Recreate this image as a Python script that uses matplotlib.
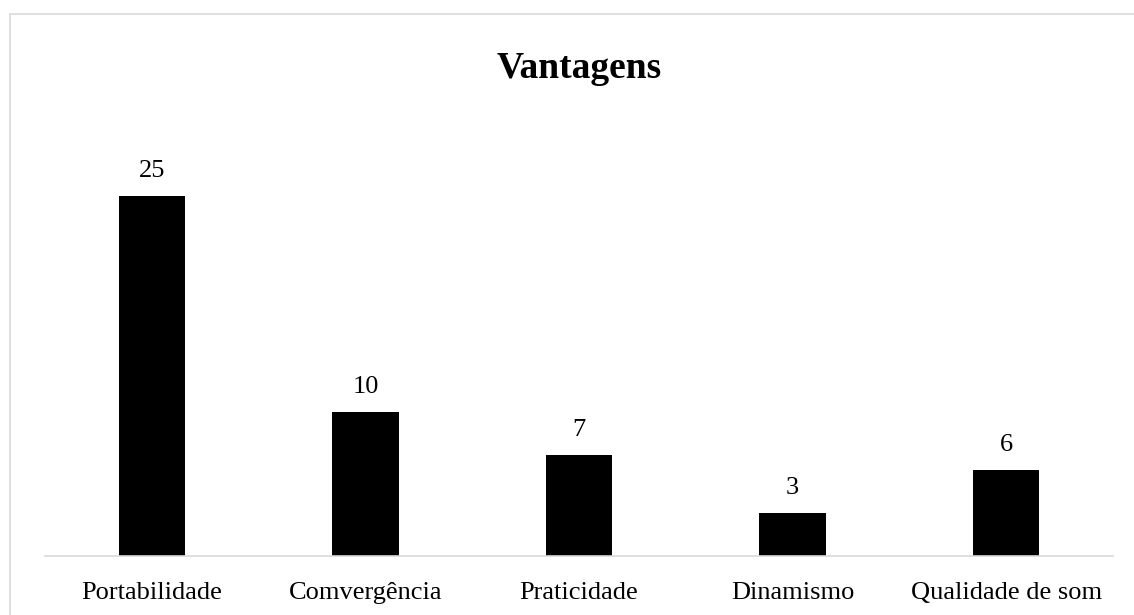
import matplotlib
matplotlib.use("Agg")
import matplotlib.pyplot as plt
from matplotlib.patches import Rectangle

categories = ["Portabilidade", "Comvergência", "Praticidade", "Dinamismo", "Qualidade de som"]
values = [25, 10, 7, 3, 6]

W, H = 1134, 615
fig = plt.figure(figsize=(W / 100, H / 100), dpi=100)
plt.rcParams['font.family'] = ['Liberation Serif', 'DejaVu Serif']

# axes in pixel coords
left, right, bottom, top = 45, 1113, 556, 124
ax = fig.add_axes([left / W, 1 - bottom / H, (right - left) / W, (bottom - top) / H])

x = list(range(len(categories)))
ax.bar(x, values, width=0.31, color="black")
for xi, v in zip(x, values):
    ax.annotate(str(v), (xi, v), xytext=(0, 10), textcoords="offset points",
                ha="center", va="bottom", fontsize=19)
ax.set_xlim(-0.5, len(categories) - 0.5)
ax.set_ylim(0, 30)
ax.set_yticks([])
ax.set_xticks(x)
ax.set_xticklabels(categories, fontsize=19)
ax.tick_params(axis="x", length=0, pad=19)
for s in ["top", "right", "left"]:
    ax.spines[s].set_visible(False)
ax.spines["bottom"].set_color("#d9d9d9")
ax.spines["bottom"].set_linewidth(1.2)

fig.text(579 / W, 1 - 69 / H, "Vantagens", ha="center", va="center",
         fontsize=27, fontweight="bold")

fig.patches.append(Rectangle((10 / W, -0.1), 1.2, 1 - 14 / H + 0.1, transform=fig.transFigure,
                             fill=False, edgecolor="#d9d9d9", linewidth=1.2))

fig.savefig("out.png", dpi=100)
